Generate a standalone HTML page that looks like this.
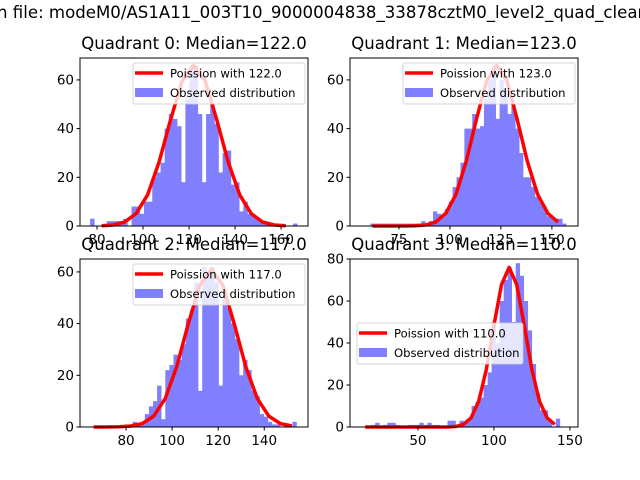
<!DOCTYPE html>
<html><head><meta charset="utf-8"><style>
body{margin:0;background:#fff}
svg{display:block;font-family:"DejaVu Sans","Liberation Sans",sans-serif}
</style></head><body>
<svg id="fig" width="640" height="480" viewBox="0 0 640 480" xmlns="http://www.w3.org/2000/svg">
<rect width="640" height="480" fill="#fff"/>
<text x="-3" y="18" font-size="16.6" fill="#000">n file: modeM0/AS1A11_003T10_9000004838_33878cztM0_level2_quad_clean</text>
</svg>
<script>
// ---- Data ----
const q0Counts=[3,0,0,0,2,2,2,2,3,0,8,8,5,10,10,20,22,26,40,46,44,41,18,52,66,66,46,18,46,50,42,22,30,31,17,18,6,10,5,4,3,2,1,1,1,0,0,0,0,1];
const q1Counts=[1,1,1,1,1,1,1,1,1,1,1,1,1,2,1,2,6,5,4,7,10,16,20,26,40,40,46,40,41,52,60,66,44,60,56,46,50,40,30,20,20,16,12,10,8,4,3,3,3,1];
const q2Counts=[0,0,0,0,0,0,0,0,0,0,2,1,1,5,8,10,16,3,22,24,28,26,32,42,45,56,14,62,60,62,56,16,50,46,40,34,20,26,22,14,12,5,4,2,1,1,0,0,0,2];
const q3Counts=[0,0,1,2,0,1,2,2,1,0,0,1,1,1,2,1,2,1,1,0,0,3,3,0,3,2,4,10,12,14,20,26,50,40,60,70,76,50,78,72,60,46,30,16,8,8,3,0,4,0];
const dataMin=[77,61,65,14];
const dataMax=[167,157,154,146];
const medians=[122.0,123.0,117.0,110.0];
const curveOffsets=[-45,-40,-35,-30,-25,-20,-15,-10,-5,0,5,10,15,20,25,30,35,40,45];
const q0Curve=[0,0.1,0.4,1.6,5.1,12.8,26.3,43.7,59.6,66,59.6,43.7,26.3,12.8,5.1,1.6,0.4,0.1,0];
const q1Curve=[0,0.1,0.4,1.6,5.2,13.0,26.5,43.8,59.6,66,59.6,43.8,26.5,13.0,5.2,1.6,0.4,0.1,0];
const q2Curve=[0,0.1,0.4,1.3,4.2,11.0,23.3,39.8,54.9,61,54.9,39.8,23.3,11.0,4.2,1.3,0.4,0.1,0];
const q3Curve=[0,0,0.3,1.3,4.4,12.3,27.3,48.3,67.8,76,67.8,48.3,27.3,12.3,4.4,1.3,0.3,0,0];
const q0XTicks=[80,100,120,140,160];
const q1XTicks=[75,100,125,150];
const q2XTicks=[80,100,120,140];
const q3XTicks=[50,100,150];
const q0YTicks=[0,20,40,60];
const q3YTicks=[0,20,40,60,80];

const NS="http://www.w3.org/2000/svg";
const svg=document.getElementById('fig');
function mk(tag,attrs,parent){const e=document.createElementNS(NS,tag);for(const k in attrs)e.setAttribute(k,attrs[k]);(parent||svg).appendChild(e);return e;}

const panels=[
 {counts:q0Counts,curve:q0Curve,xt:q0XTicks,yt:q0YTicks,L:80,T:58,xmin:72.6,xmax:171.7,ymax:69,title:"Quadrant 0: Median=122.0",leg:[133,63]},
 {counts:q1Counts,curve:q1Curve,xt:q1XTicks,yt:q0YTicks,L:350,T:58,xmin:51,xmax:162.8,ymax:69,title:"Quadrant 1: Median=123.0",leg:[403,63]},
 {counts:q2Counts,curve:q2Curve,xt:q2XTicks,yt:q0YTicks,L:80,T:259,xmin:60,xmax:159,ymax:65,title:"Quadrant 2: Median=117.0",leg:[133,264]},
 {counts:q3Counts,curve:q3Curve,xt:q3XTicks,yt:q3YTicks,L:350,T:259,xmin:5.3,xmax:155.3,ymax:80,title:"Quadrant 3: Median=110.0",leg:[357,323]}
];
const W=228,H=168;
panels.forEach((p,i)=>{
  const g=mk('g',{});
  
  
  const xs=v=>p.L+(v-p.xmin)/(p.xmax-p.xmin)*W;
  const ys=v=>p.T+H-v/p.ymax*H;
  const bw=(dataMax[i]-dataMin[i])/p.counts.length;
  p.counts.forEach((c,j)=>{
    if(c<=0)return;
    const x0=xs(dataMin[i]+j*bw),x1=xs(dataMin[i]+(j+1)*bw);
    const r=mk('rect',{x:x0,y:ys(c),width:x1-x0+0.3,height:ys(0)-ys(c),fill:'#8080ff'},g);
    
    
  });
  const pts=[];
  const lo=dataMin[i]+bw/2,hi=dataMax[i]-bw/2;
  if(medians[i]+curveOffsets[0]>lo)pts.push(xs(lo).toFixed(1)+','+ys(0).toFixed(1));
  curveOffsets.forEach((o,j)=>{const x=medians[i]+o;if(x>=lo&&x<=hi)pts.push(xs(x).toFixed(1)+','+ys(p.curve[j]).toFixed(1));});
  if(medians[i]+curveOffsets[curveOffsets.length-1]<hi)pts.push(xs(hi).toFixed(1)+','+ys(0).toFixed(1));
  const pl=mk('polyline',{points:pts.join(' '),fill:'none',stroke:'#ff0000','stroke-width':3.5,'stroke-linejoin':'round'},g);
  
  
  const fr=mk('rect',{x:p.L,y:p.T,width:W,height:H,fill:'none',stroke:'#000','stroke-width':1},g);
  
  
  p.xt.forEach(t=>{
    const x=xs(t);
    mk('line',{x1:x,x2:x,y1:p.T+H,y2:p.T+H+3.5,stroke:'#000'},g);
    const tx=mk('text',{x:x,y:p.T+H+18,'font-size':13.5,'text-anchor':'middle'},g);
    tx.textContent=t;
    
    
  });
  p.yt.forEach(t=>{
    const y=ys(t);
    mk('line',{x1:p.L-3.5,x2:p.L,y1:y,y2:y,stroke:'#000'},g);
    const tx=mk('text',{x:p.L-6,y:y+4.5,'font-size':13.5,'text-anchor':'end'},g);
    tx.textContent=t;
    
    
  });
  const tt=mk('text',{x:p.L+W/2,y:p.T-9,'font-size':16.5,'text-anchor':'middle'},g);
  tt.textContent=p.title;
  
  
  const lg=mk('g',{},g);
  
  
  const [lx,ly]=p.leg;const lw=i===3?166:172;
  mk('rect',{x:lx,y:ly,width:lw,height:41,rx:2,fill:'#fff','fill-opacity':0.8,stroke:'#ccc','stroke-opacity':0.8},lg);
  mk('line',{x1:lx+2,x2:lx+30,y1:ly+10,y2:ly+10,stroke:'#ff0000','stroke-width':3.5},lg);
  mk('rect',{x:lx+2,y:ly+25,width:28,height:9,fill:'#8080ff'},lg);
  const t1=mk('text',{x:lx+37,y:ly+14.5,'font-size':11.6},lg);t1.textContent='Poission with '+medians[i].toFixed(1);
  
  
  const t2=mk('text',{x:lx+37,y:ly+34,'font-size':11.6},lg);t2.textContent='Observed distribution';
  
  
});
</script>
</body></html>
